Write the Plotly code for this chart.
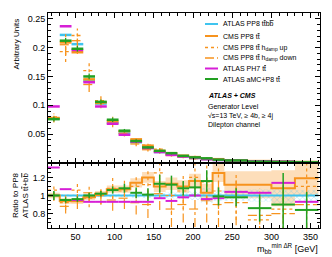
import plotly.graph_objects as go

# ---------------- data ----------------
edges = [15, 30, 45, 60, 75, 90, 105, 120, 135, 150, 165, 180, 195, 210, 225, 240, 270, 300, 330, 360]

# top panel: normalised distributions (arbitrary units)
atlas_pp8_ttbb = [0.077, 0.222, 0.206, 0.143, 0.103, 0.070, 0.052, 0.036, 0.026, 0.019, 0.015, 0.0115, 0.0088, 0.0068, 0.0053, 0.0040, 0.0029, 0.0020, 0.0014]
cms_pp8_tt = [0.078, 0.209, 0.192, 0.145, 0.105, 0.072, 0.055, 0.041, 0.030, 0.021, 0.017, 0.0126, 0.0102, 0.0070, 0.0066, 0.0045, 0.0033, 0.0022, 0.0017]
cms_hdamp_up = [0.080, 0.193, 0.221, 0.160, 0.108, 0.074, 0.055, 0.040, 0.031, 0.024, 0.015, 0.0120, 0.0106, 0.0078, 0.0058, 0.0039, 0.0021, 0.0017, 0.0015]
cms_hdamp_down = [0.076, 0.205, 0.212, 0.136, 0.103, 0.068, 0.051, 0.033, 0.023, 0.019, 0.013, 0.0104, 0.0075, 0.0065, 0.0048, 0.0037, 0.0023, 0.0016, 0.0013]
atlas_ph7_tt = [0.098, 0.237, 0.196, 0.140, 0.098, 0.068, 0.049, 0.037, 0.026, 0.019, 0.014, 0.0113, 0.0088, 0.0066, 0.0052, 0.0042, 0.0030, 0.0023, 0.0013]
atlas_amc_tt = [0.076, 0.212, 0.198, 0.150, 0.106, 0.075, 0.056, 0.038, 0.027, 0.021, 0.017, 0.0124, 0.0097, 0.0081, 0.0058, 0.0044, 0.0024, 0.0019, 0.0012]
err_top_amc = [0.004, 0.005, 0.005, 0.005, 0.004, 0.004, 0.003, 0.003, 0.002, 0.002, 0.002, 0.0015, 0.0015, 0.0012, 0.001, 0.0008, 0.0006, 0.0005, 0.0004]
err_top_hdamp = [0.006, 0.018, 0.012, 0.013, 0.008, 0.006, 0.005, 0.004, 0.003, 0.003, 0.002, 0.002, 0.002, 0.0015, 0.0015, 0.001, 0.001, 0.0008, 0.0006]

# bottom panel: ratio to ATLAS PP8 ttbb
ratio_pp8_ttbb = [1.0] * 19
band_pp8_ttbb = [0.02, 0.015, 0.015, 0.015, 0.015, 0.02, 0.02, 0.025, 0.03, 0.03, 0.035, 0.04, 0.05, 0.08, 0.06, 0.06, 0.07, 0.08, 0.06]
ratio_cms = [1.0, 0.94, 0.935, 0.98, 1.02, 1.07, 1.07, 1.14, 1.2, 1.1, 1.13, 1.1, 1.16, 1.03, 1.25, 1.12, 1.12, 1.08, 1.19]
band_cms = [0.03, 0.03, 0.03, 0.03, 0.03, 0.04, 0.04, 0.05, 0.06, 0.06, 0.07, 0.07, 0.08, 0.1, 0.1, 0.15, 0.15, 0.2, 0.2]
ratio_hdamp_up = [1.06, 0.92, 1.06, 0.97, 1.0, 1.08, 1.05, 1.1, 1.12, 1.25, 1.0, 1.05, 1.2, 1.15, 1.05, 0.98, 0.73, 0.85, 1.1]
ratio_hdamp_down = [1.0, 0.88, 0.95, 1.03, 1.0, 0.95, 0.97, 0.92, 0.9, 1.02, 0.85, 0.9, 0.85, 0.95, 0.9, 0.92, 0.78, 0.8, 0.9]
err_ratio_hdamp = [0.06, 0.08, 0.1, 0.1, 0.1, 0.12, 0.12, 0.13, 0.15, 0.18, 0.2, 0.2, 0.2, 0.25, 0.25, 0.25, 0.3, 0.3, 0.3]
ratio_ph7 = [1.31, 1.07, 0.95, 0.93, 0.93, 0.93, 0.93, 0.93, 0.93, 0.97, 0.94, 0.98, 1.0, 0.96, 0.97, 1.04, 1.03, 1.14, 0.93]
ratio_amc = [1.0, 0.95, 0.96, 1.0, 1.02, 1.06, 1.08, 1.03, 1.01, 1.13, 1.12, 1.08, 1.09, 1.16, 0.99, 0.98, 0.86, 0.9, 0.84]
err_ratio_amc = [0.05, 0.03, 0.03, 0.03, 0.03, 0.04, 0.05, 0.06, 0.07, 0.1, 0.1, 0.08, 0.1, 0.12, 0.1, 0.1, 0.15, 0.35, 0.2]

top_ticks = [0.05, 0.1, 0.15, 0.2, 0.25]
top_ticktext = ["0.05", "0.1", "0.15", "0.2", "0.25"]
ratio_ticks = [0.8, 1.0, 1.2]
ratio_ticktext = ["0.8", "1", "1.2"]

OV = '<span style="text-decoration:overline">{}</span>'
TT = "t" + OV.format("t")
BB = "b" + OV.format("b")
legend_names = ["ATLAS PP8 " + TT + BB, "CMS PP8 " + TT, "CMS PP8 " + TT + " h<sub>damp</sub> up",
                "CMS PP8 " + TT + " h<sub>damp</sub> down", "ATLAS PH7 " + TT, "ATLAS aMC+P8 " + TT]
ratio_title = "Ratio to PP8<br>ATLAS " + TT + "+" + BB

# ---------------- style ----------------
C_CYAN = "#3fc4ef"
C_ORANGE = "#f7931e"
C_MAG = "#d61fd6"
C_GREEN = "#22a022"
FONT = "Liberation Sans, Arial, sans-serif"

W, H = 332, 257
ML, MR, MT, MB = 40, 20, 5, 37
PW, PH = W - ML - MR, H - MT - MB
SPLIT = 65 / PH

def px(x, y):
    return (x - ML) / PW, (H - MB - y) / PH

centers = [(edges[i] + edges[i + 1]) / 2 for i in range(len(edges) - 1)]
halfw = [(edges[i + 1] - edges[i]) / 2 for i in range(len(edges) - 1)]

def hsegs(vals):
    xs, ys = [], []
    for i, v in enumerate(vals):
        xs += [edges[i], edges[i + 1], None]
        ys += [v, v, None]
    return xs, ys

def vsegs(vals, errs):
    xs, ys = [], []
    for c, v, e in zip(centers, vals, errs):
        xs += [c, c, None]
        ys += [v - e, v + e, None]
    return xs, ys

fig = go.Figure()

def bars(vals, color, xa, ya, thick=2.5, errs=None, ethick=1.3):
    ey = dict(type="data", array=errs, width=0, thickness=ethick, color=color) if errs else None
    fig.add_trace(go.Scatter(
        x=centers, y=vals, mode="markers", xaxis=xa, yaxis=ya,
        marker=dict(size=1, color=color),
        error_x=dict(type="data", array=halfw, width=0, thickness=thick, color=color),
        error_y=ey, showlegend=False, hoverinfo="skip"))

def dotted(vals, errs, color, dash, xa, ya, width=1.3):
    hx, hy = hsegs(vals)
    vx, vy = vsegs(vals, errs)
    fig.add_trace(go.Scatter(x=hx, y=hy, mode="lines", xaxis=xa, yaxis=ya,
                             line=dict(color=color, width=width, dash=dash), showlegend=False, hoverinfo="skip"))
    fig.add_trace(go.Scatter(x=vx, y=vy, mode="lines", xaxis=xa, yaxis=ya,
                             line=dict(color=color, width=width, dash=dash), showlegend=False, hoverinfo="skip"))

# ---- top panel ----
bars(atlas_pp8_ttbb, C_CYAN, "x", "y")
bars(cms_pp8_tt, C_ORANGE, "x", "y", errs=[e * 0.6 for e in err_top_amc])
dotted(cms_hdamp_up, err_top_hdamp, C_ORANGE, "dot", "x", "y")
dotted(cms_hdamp_down, err_top_hdamp, C_ORANGE, "dashdot", "x", "y")
bars(atlas_ph7_tt, C_MAG, "x", "y")
bars(atlas_amc_tt, C_GREEN, "x", "y", errs=err_top_amc)

# ---- ratio panel ----
step_x = edges
def stepy(v):
    return list(v) + [v[-1]]

fig.add_trace(go.Scatter(x=step_x, y=stepy([r - b for r, b in zip(ratio_cms, band_cms)]), mode="lines",
                         line=dict(width=0, shape="hv"), xaxis="x2", yaxis="y2", showlegend=False, hoverinfo="skip"))
fig.add_trace(go.Scatter(x=step_x, y=stepy([r + b for r, b in zip(ratio_cms, band_cms)]), mode="lines",
                         line=dict(width=0, shape="hv"), fill="tonexty", fillcolor="rgba(252,200,140,0.6)",
                         xaxis="x2", yaxis="y2", showlegend=False, hoverinfo="skip"))
fig.add_trace(go.Scatter(x=step_x, y=stepy([r - b for r, b in zip(ratio_pp8_ttbb, band_pp8_ttbb)]), mode="lines",
                         line=dict(width=0, shape="hv"), xaxis="x2", yaxis="y2", showlegend=False, hoverinfo="skip"))
fig.add_trace(go.Scatter(x=step_x, y=stepy([r + b for r, b in zip(ratio_pp8_ttbb, band_pp8_ttbb)]), mode="lines",
                         line=dict(width=0, shape="hv"), fill="tonexty", fillcolor="rgba(0,0,0,0)",
                         fillpattern=dict(shape="x", fgcolor=C_CYAN, bgcolor="rgba(0,0,0,0)", size=4, solidity=0.25),
                         xaxis="x2", yaxis="y2", showlegend=False, hoverinfo="skip"))
fig.add_trace(go.Scatter(x=step_x, y=stepy(ratio_pp8_ttbb), mode="lines", line=dict(color=C_CYAN, width=2.2, shape="hv"),
                         xaxis="x2", yaxis="y2", showlegend=False, hoverinfo="skip"))
fig.add_trace(go.Scatter(x=step_x, y=stepy(ratio_cms), mode="lines", line=dict(color=C_ORANGE, width=2, shape="hv"),
                         xaxis="x2", yaxis="y2", showlegend=False, hoverinfo="skip"))
dotted(ratio_hdamp_up, err_ratio_hdamp, C_ORANGE, "dot", "x2", "y2", width=1.2)
dotted(ratio_hdamp_down, err_ratio_hdamp, C_ORANGE, "dashdot", "x2", "y2", width=1.2)
bars(ratio_ph7, C_MAG, "x2", "y2", thick=2)
bars(ratio_amc, C_GREEN, "x2", "y2", thick=2, errs=err_ratio_amc, ethick=1.5)

# ---------------- layout ----------------
axis_common = dict(showline=True, linecolor="black", linewidth=1, mirror="ticks", ticks="inside",
                   ticklen=5, tickwidth=1, tickcolor="black", showgrid=False, zeroline=False,
                   tickfont=dict(family=FONT, size=9, color="black"))

xr = [15, 362]
fig.update_layout(
    width=W, height=H, margin=dict(l=ML, r=MR, t=MT, b=MB),
    paper_bgcolor="white", plot_bgcolor="white", showlegend=False,
    font=dict(family=FONT, color="black"),
    xaxis=dict(axis_common, domain=[0, 1], anchor="y", range=xr, tickvals=[50, 100, 150, 200, 250, 300, 350],
               showticklabels=False, minor=dict(ticks="inside", dtick=10, tick0=0, ticklen=3, tickcolor="black")),
    yaxis=dict(axis_common, domain=[SPLIT, 1], anchor="x", range=[0, 0.26], tickvals=top_ticks, ticktext=top_ticktext,
               minor=dict(ticks="inside", dtick=0.01, tick0=0, ticklen=3, tickcolor="black")),
    xaxis2=dict(axis_common, domain=[0, 1], anchor="y2", range=xr, matches="x",
                tickvals=[50, 100, 150, 200, 250, 300, 350], ticktext=["50", "100", "150", "200", "250", "300", "350"],
                minor=dict(ticks="inside", dtick=10, tick0=0, ticklen=3, tickcolor="black")),
    yaxis2=dict(axis_common, domain=[0, SPLIT], anchor="x2", range=[0.64, 1.36], tickvals=ratio_ticks, ticktext=ratio_ticktext,
                minor=dict(ticks="inside", dtick=0.05, tick0=0, ticklen=3, tickcolor="black")),
)

fig.add_shape(type="line", xref="paper", yref="paper", x0=0, x1=1, y0=SPLIT, y1=SPLIT,
              line=dict(color="black", width=2))

leg_cols = [C_CYAN, C_ORANGE, C_ORANGE, C_ORANGE, C_MAG, C_GREEN]
leg_dash = ["solid", "solid", "dot", "dashdot", "solid", "solid"]
leg_y = [16, 28, 39.5, 50, 60.5, 71]
for name, col, dsh, yy in zip(legend_names, leg_cols, leg_dash, leg_y):
    x0, y0 = px(197, yy)
    x1, _ = px(210, yy)
    fig.add_shape(type="line", xref="paper", yref="paper", x0=x0, x1=x1, y0=y0, y1=y0,
                  line=dict(color=col, width=2 if dsh == "solid" else 1.3, dash=dsh))
    tx, ty = px(213, yy)
    fig.add_annotation(xref="paper", yref="paper", x=tx, y=ty, text=name, showarrow=False,
                       xanchor="left", yanchor="middle", font=dict(family=FONT, size=7, color="black"))

info = [("<b><i>ATLAS + CMS</i></b>", 88), ("Generator Level", 98),
        ("√s=13 TeV, ≥ 4b, ≥ 4j", 108), ("Dilepton channel", 117)]
for t, yy in info:
    tx, ty = px(198, yy)
    fig.add_annotation(xref="paper", yref="paper", x=tx, y=ty, text=t, showarrow=False,
                       xanchor="left", yanchor="middle", font=dict(family=FONT, size=7, color="black"))

tx, ty = px(8, 9)
fig.add_annotation(xref="paper", yref="paper", x=tx, y=ty, text="Arbitrary Units", textangle=-90, showarrow=False,
                   xanchor="center", yanchor="top", font=dict(family=FONT, size=8, color="black"))
tx, ty = px(12, 187)
fig.add_annotation(xref="paper", yref="paper", x=tx, y=ty, text=ratio_title, textangle=-90,
                   showarrow=False, xanchor="center", yanchor="middle", align="left",
                   font=dict(family=FONT, size=8, color="black"))
tx, ty = px(312, 240)
fig.add_annotation(xref="paper", yref="paper", x=tx, y=ty, text="m<sub>bb</sub><sup>min ΔR</sup> [GeV]",
                   showarrow=False, xanchor="right", yanchor="middle", font=dict(family=FONT, size=9, color="black"))

fig.write_html("out.html")
